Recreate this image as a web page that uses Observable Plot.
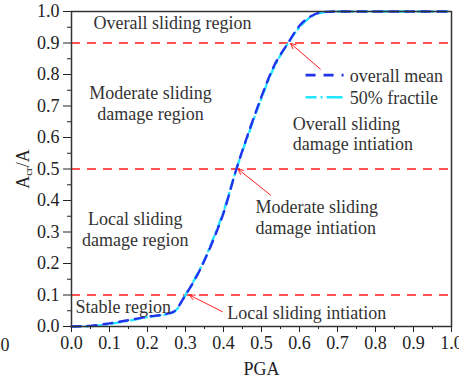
<!DOCTYPE html>
<html><head><meta charset="utf-8">
<script src="https://cdn.jsdelivr.net/npm/d3@7"></script>
<script src="https://cdn.jsdelivr.net/npm/@observablehq/plot@0.6"></script>
<style>body{margin:0;background:#fff;} #chart{position:relative;width:459px;height:378px;} #chart svg, #chart svg text{font-family:"Liberation Serif","Times New Roman",serif !important;}</style>
</head><body><div id="chart"></div>
<script>
const pga = [0, 0.05, 0.1, 0.15, 0.2, 0.25, 0.27, 0.3, 0.325, 0.35, 0.375, 0.4, 0.434, 0.47, 0.5, 0.53, 0.57, 0.6, 0.63, 0.66, 0.7, 0.8, 0.9, 1.0];
const overallMean = [0, 0.002, 0.01, 0.02, 0.031, 0.04, 0.048, 0.1, 0.15, 0.21, 0.28, 0.36, 0.5, 0.63, 0.73, 0.82, 0.9, 0.955, 0.985, 0.998, 1, 1, 1, 1];
const fractile50 = [0, 0.001, 0.008, 0.018, 0.03, 0.039, 0.046, 0.1, 0.152, 0.212, 0.285, 0.365, 0.5, 0.625, 0.725, 0.815, 0.9, 0.95, 0.983, 0.997, 1, 1, 1, 1];
const thresholds = [0.1, 0.5, 0.9];
const majorTicks = [0, 0.1, 0.2, 0.3, 0.4, 0.5, 0.6, 0.7, 0.8, 0.9, 1.0];
const minorTicks = [0.05, 0.15, 0.25, 0.35, 0.45, 0.55, 0.65, 0.75, 0.85, 0.95];
const seriesNames = ["overall mean", "50% fractile"];
const colors = {mean: "#2233ee", fractile: "#22e6ff"};

// annotation labels (data coordinates)
const regionLabels = [
  {text: "Overall sliding region", x: 0.058, y: 0.967, anchor: "start"},
  {text: "Moderate sliding\ndamage region", x: 0.208, y: 0.71, anchor: "middle"},
  {text: "Local sliding\ndamage region", x: 0.168, y: 0.311, anchor: "middle"},
  {text: "Stable region", x: 0.0105, y: 0.065, anchor: "start"},
  {text: "Local sliding intiation", x: 0.41, y: 0.046, anchor: "start"},
  {text: "Moderate sliding\ndamage intiation", x: 0.484, y: 0.348, anchor: "start"},
  {text: "Overall sliding\ndamage intiation", x: 0.582, y: 0.613, anchor: "start"}
];
const arrows = [
  {x1: 0.655, y1: 0.817, x2: 0.576, y2: 0.899},
  {x1: 0.524, y1: 0.417, x2: 0.438, y2: 0.5},
  {x1: 0.397, y1: 0.047, x2: 0.31, y2: 0.1}
];
const legendItems = [
  {name: seriesNames[0], x1: 0.616, x2: 0.718, tx: 0.732, y: 0.798},
  {name: seriesNames[1], x1: 0.616, x2: 0.718, tx: 0.732, y: 0.728}
];

const meanData = pga.map((x, i) => ({x, y: overallMean[i]}));
const fracData = pga.map((x, i) => ({x, y: fractile50[i]}));
const font = "'Liberation Serif', 'Times New Roman', serif";
const tOpts = {fontFamily: font, fontSize: 18, fill: "#333", lineAnchor: "middle", lineHeight: 1.15};

const plot = Plot.plot({
  width: 459, height: 378,
  marginLeft: 71, marginRight: 8, marginTop: 11, marginBottom: 52,
  style: {fontFamily: font, fontSize: "18px", color: "#222", background: "#fff"},
  x: {domain: [0, 1]},
  y: {domain: [0, 1]},
  marks: [
    Plot.ruleY(thresholds, {stroke: "#ff1a1a", strokeWidth: 1.6, strokeDasharray: "9,7"}),
    Plot.line(fracData, {x: "x", y: "y", stroke: colors.fractile, strokeWidth: 2.4, strokeDasharray: "10,4,2,4", curve: "monotone-x"}),
    Plot.line(meanData, {x: "x", y: "y", stroke: colors.mean, strokeWidth: 2.4, strokeDasharray: "9,7", curve: "monotone-x"}),
    Plot.arrow(arrows, {x1: "x1", y1: "y1", x2: "x2", y2: "y2", stroke: "#ff2020", strokeWidth: 1, headLength: 9, headAngle: 50}),
    Plot.text(regionLabels.filter(d => d.anchor === "start"), {x: "x", y: "y", text: "text", textAnchor: "start", ...tOpts}),
    Plot.text(regionLabels.filter(d => d.anchor === "middle"), {x: "x", y: "y", text: "text", textAnchor: "middle", ...tOpts}),
    Plot.link(legendItems.slice(0, 1), {x1: "x1", x2: "x2", y1: "y", y2: "y", stroke: colors.mean, strokeWidth: 2.6, strokeDasharray: "10,8,10,8,2,20"}),
    Plot.link(legendItems.slice(1, 2), {x1: "x1", x2: "x2", y1: "y", y2: "y", stroke: colors.fractile, strokeWidth: 2.6, strokeDasharray: "11,4,2,4,16,20"}),
    Plot.text(legendItems, {x: "tx", y: "y", text: "name", textAnchor: "start", ...tOpts}),
    Plot.axisX({ticks: majorTicks, tickSize: 6, tickPadding: 4, tickFormat: d3.format(".1f"), label: null, fontSize: 18, fontFamily: font}),
    Plot.axisX({ticks: minorTicks, tickSize: 3, text: null, label: null}),
    Plot.axisY({ticks: majorTicks, tickSize: 8, tickPadding: 4, tickFormat: d3.format(".1f"), label: null, fontSize: 18, fontFamily: font}),
    Plot.axisY({ticks: minorTicks, tickSize: 4, text: null, label: null}),
    Plot.frame({stroke: "#333", strokeWidth: 1.5}),
    Plot.text(["PGA"], {frameAnchor: "bottom", dy: 42, ...tOpts, fill: "#222"}),
    Plot.text(["0"], {frameAnchor: "bottom-left", dx: -71, dy: 17.5, textAnchor: "start", ...tOpts, fill: "#222"})
  ]
});

// y-axis label with subscript
const svg = d3.select(plot);
const lbl = svg.append("text")
  .attr("transform", "translate(29,169) rotate(-90)")
  .attr("text-anchor", "middle")
  .attr("font-family", font)
  .attr("font-size", 18)
  .attr("fill", "#222");
lbl.append("tspan").text("A");
lbl.append("tspan").attr("font-size", 11).attr("dy", 3).text("cr");
lbl.append("tspan").attr("dy", -3).text("/A");

document.getElementById("chart").appendChild(plot);
</script>
</body></html>
